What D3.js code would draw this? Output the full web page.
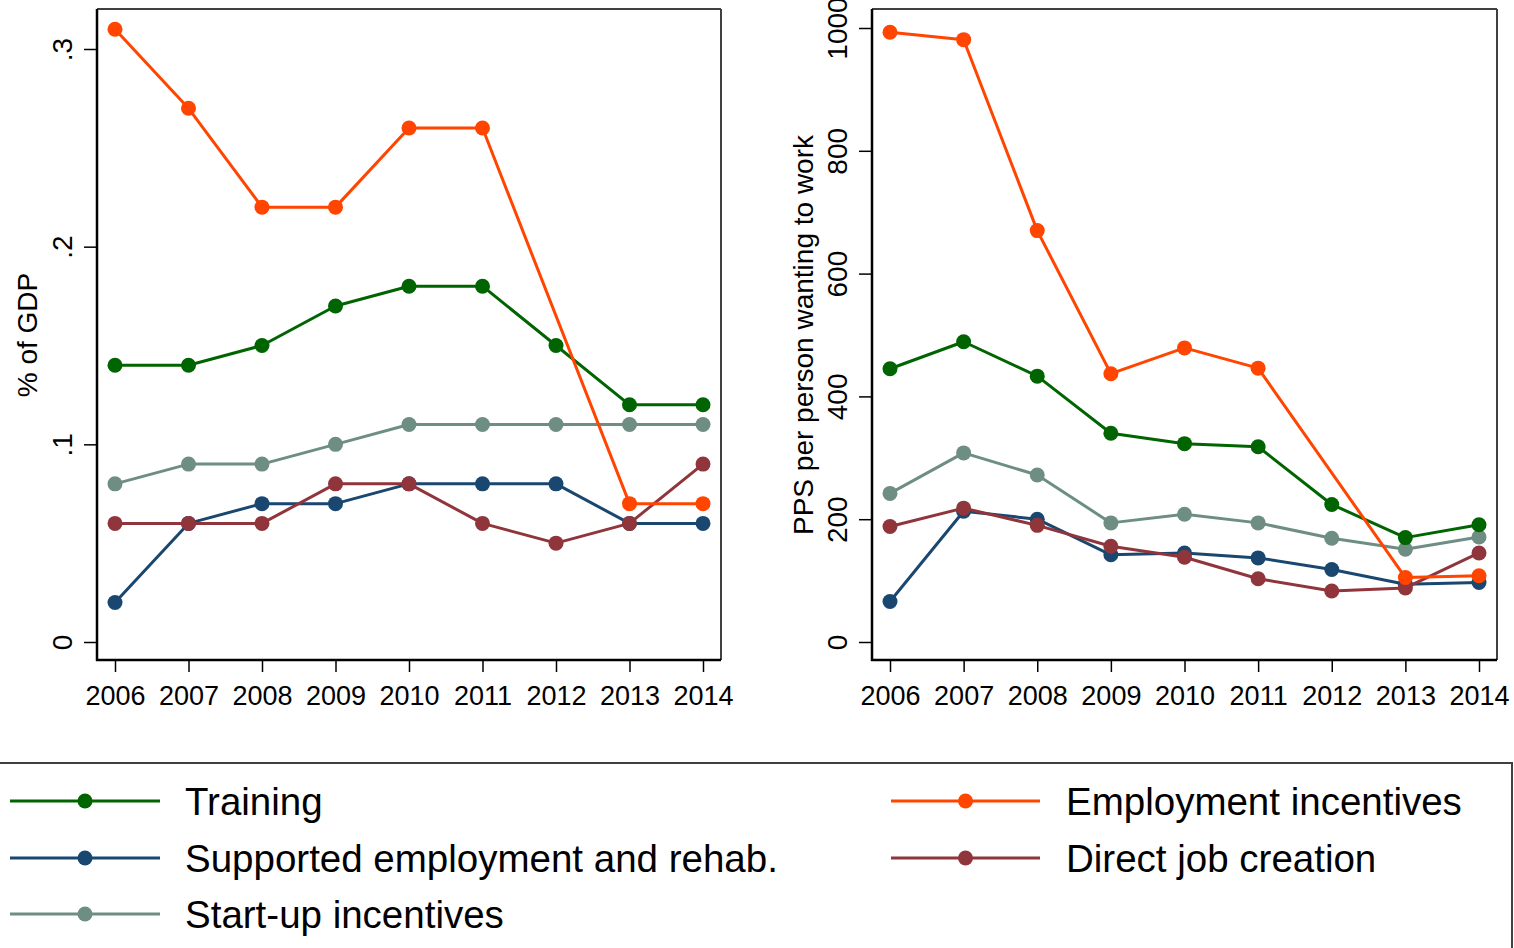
<!DOCTYPE html>
<html>
<head>
<meta charset="utf-8">
<script src="https://cdn.jsdelivr.net/npm/d3@7"></script>
<style>
  html, body { margin: 0; padding: 0; background: #fff; }
  svg { display: block; font-family: "Liberation Sans", Arial, sans-serif; }
</style>
</head>
<body>
<svg id="chart" width="1514" height="948"></svg>
<script>
const years = [2006, 2007, 2008, 2009, 2010, 2011, 2012, 2013, 2014];

const seriesNames = ["Training", "Supported employment and rehab.", "Start-up incentives", "Employment incentives", "Direct job creation"];
const seriesColors = ["#006400", "#1a476f", "#6e8e84", "#ff4500", "#90353b"];

// Left panel: % of GDP
const gdpTraining   = [0.14, 0.14, 0.15, 0.17, 0.18, 0.18, 0.15, 0.12, 0.12];
const gdpSupported  = [0.02, 0.06, 0.07, 0.07, 0.08, 0.08, 0.08, 0.06, 0.06];
const gdpStartup    = [0.08, 0.09, 0.09, 0.10, 0.11, 0.11, 0.11, 0.11, 0.11];
const gdpEmployment = [0.31, 0.27, 0.22, 0.22, 0.26, 0.26, null, 0.07, 0.07];
const gdpDirect     = [0.06, 0.06, 0.06, 0.08, 0.08, 0.06, 0.05, 0.06, 0.09];

// Right panel: PPS per person wanting to work
const ppsTraining   = [445, 489, 433, 340, 323, 318, 224, 170, 191];
const ppsSupported  = [66, 213, 200, 142, 145, 137, 118, 94, 97];
const ppsStartup    = [242, 308, 272, 194, 208, 194, 169, 151, 171];
const ppsEmployment = [993, 981, 670, 437, 479, 446, null, 105, 108];
const ppsDirect     = [188, 218, 190, 156, 138, 103, 83, 88, 145];

const gdpTicks = [0, 0.1, 0.2, 0.3];
const ppsTicks = [0, 200, 400, 600, 800, 1000];

const leftTitle = "% of GDP";
const rightTitle = "PPS per person wanting to work";

const svg = d3.select("#chart");

function panel(cfg) {
  const g = svg.append("g");
  const x = d3.scaleLinear().domain([2006, 2014]).range([cfg.x0, cfg.x1]);
  const y = d3.scaleLinear().domain(cfg.domain).range([642, cfg.yTop]);

  // frame: top & right grey, left & bottom black
  g.append("line").attr("x1", cfg.left).attr("x2", cfg.right).attr("y1", 9).attr("y2", 9)
    .attr("stroke", "#404040").attr("stroke-width", 2);
  g.append("line").attr("x1", cfg.right).attr("x2", cfg.right).attr("y1", 9).attr("y2", 660)
    .attr("stroke", "#404040").attr("stroke-width", 2);

  // y axis
  const ya = g.append("g").attr("transform", `translate(${cfg.left},0)`)
    .call(d3.axisLeft(y).tickValues(cfg.ticks).tickSize(13).tickFormat(cfg.fmt));
  ya.select(".domain").remove();
  ya.selectAll(".tick line").attr("stroke", "#000").attr("stroke-width", 1.5);
  ya.selectAll(".tick text")
    .attr("x", null).attr("dy", null)
    .attr("transform", "translate(-25,0) rotate(-90)")
    .attr("text-anchor", "middle")
    .attr("fill", "#000")
    .style("font-size", "28px")
    .style("font-family", "Liberation Sans, Arial, sans-serif");

  // x axis
  const xa = g.append("g").attr("transform", "translate(0,660)")
    .call(d3.axisBottom(x).tickValues(years).tickSize(12).tickFormat(d3.format("d")));
  xa.select(".domain").remove();
  xa.selectAll(".tick line").attr("stroke", "#000").attr("stroke-width", 1.5);
  xa.selectAll(".tick text")
    .attr("y", 45).attr("dy", null)
    .attr("fill", "#000")
    .style("font-size", "27px")
    .style("font-family", "Liberation Sans, Arial, sans-serif");

  // left & bottom axis lines
  g.append("line").attr("x1", cfg.left).attr("x2", cfg.left).attr("y1", 9).attr("y2", 661)
    .attr("stroke", "#000").attr("stroke-width", 2.5);
  g.append("line").attr("x1", cfg.left - 1).attr("x2", cfg.right).attr("y1", 660).attr("y2", 660)
    .attr("stroke", "#000").attr("stroke-width", 2.5);

  // title
  g.append("text")
    .attr("transform", `translate(${cfg.titleX},335) rotate(-90)`)
    .attr("text-anchor", "middle")
    .style("font-size", "28px")
    .text(cfg.title);

  const line = d3.line().x(d => x(d.year)).y(d => y(d.v));
  const order = [2, 1, 4, 0, 3];
  order.forEach(i => {
    const pts = years.map((yr, k) => ({ year: yr, v: cfg.series[i][k] })).filter(d => d.v !== null);
    g.append("path").datum(pts).attr("d", line)
      .attr("fill", "none").attr("stroke", seriesColors[i]).attr("stroke-width", 3)
      .attr("stroke-linejoin", "round");
    g.selectAll(null).data(pts).enter().append("circle")
      .attr("cx", d => x(d.year)).attr("cy", d => y(d.v)).attr("r", 7.5)
      .attr("fill", seriesColors[i]);
  });
}

const fmtGdp = d => d === 0 ? "0" : d3.format(".1f")(d).replace(/^0/, "");

panel({
  left: 97, right: 721, x0: 115, x1: 703, yTop: 49, domain: [0, 0.3],
  ticks: gdpTicks, fmt: fmtGdp, titleX: 37, title: leftTitle,
  series: [gdpTraining, gdpSupported, gdpStartup, gdpEmployment, gdpDirect]
});
panel({
  left: 872, right: 1497, x0: 890, x1: 1479, yTop: 28, domain: [0, 1000],
  ticks: ppsTicks, fmt: d3.format("d"), titleX: 813, title: rightTitle,
  series: [ppsTraining, ppsSupported, ppsStartup, ppsEmployment, ppsDirect]
});

// Legend
const lg = svg.append("g");
lg.append("rect").attr("x", -2).attr("y", 763).attr("width", 1514).attr("height", 220)
  .attr("fill", "none").attr("stroke", "#404040").attr("stroke-width", 2);
const legendPos = [
  { lx0: 10, lx1: 160, tx: 185, y: 801 },
  { lx0: 10, lx1: 160, tx: 185, y: 858 },
  { lx0: 10, lx1: 160, tx: 185, y: 914 },
  { lx0: 891, lx1: 1040, tx: 1066, y: 801 },
  { lx0: 891, lx1: 1040, tx: 1066, y: 858 }
];
seriesNames.forEach((name, i) => {
  const p = legendPos[i];
  lg.append("line").attr("x1", p.lx0).attr("x2", p.lx1).attr("y1", p.y).attr("y2", p.y)
    .attr("stroke", seriesColors[i]).attr("stroke-width", 3);
  lg.append("circle").attr("cx", (p.lx0 + p.lx1) / 2).attr("cy", p.y).attr("r", 7.5)
    .attr("fill", seriesColors[i]);
  lg.append("text").attr("x", p.tx).attr("y", p.y + 14)
    .style("font-size", "38.5px").attr("fill", "#000").text(name);
});
</script>
</body>
</html>
